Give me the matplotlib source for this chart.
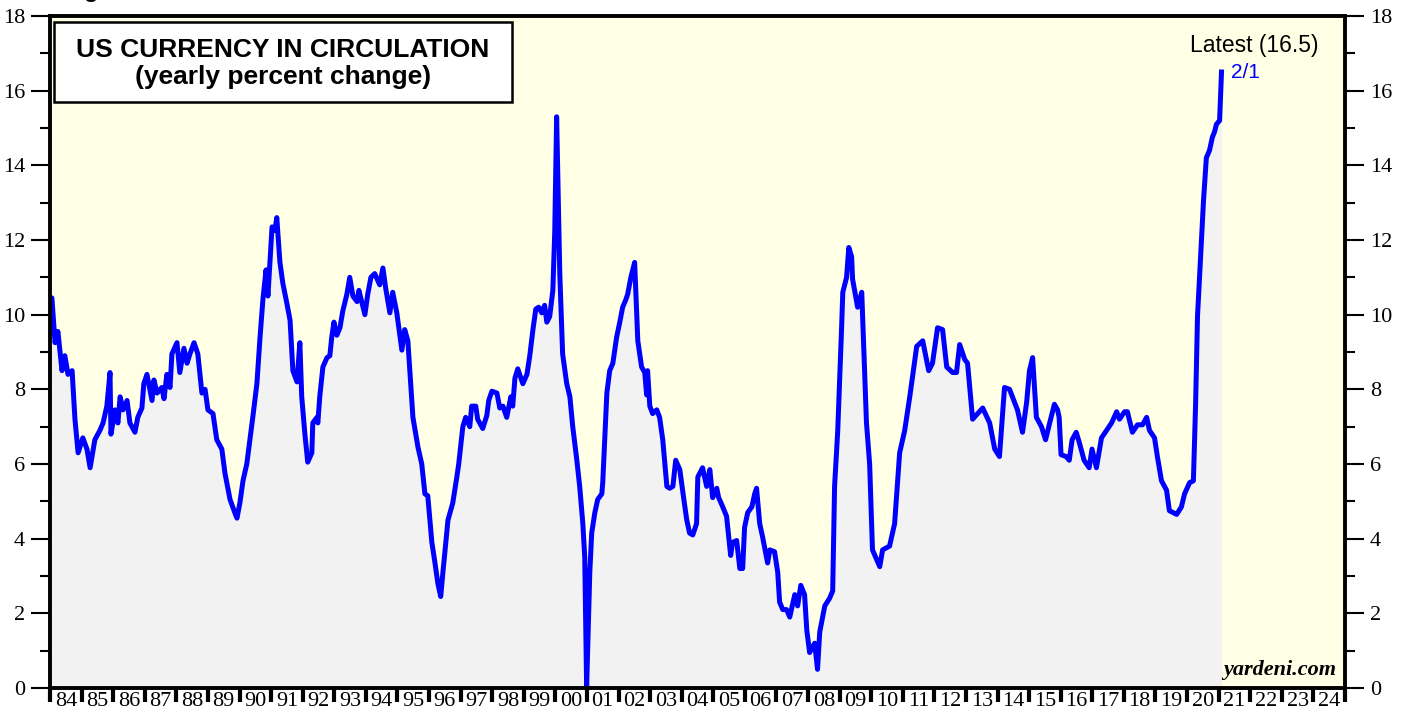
import matplotlib.pyplot as plt
from matplotlib.patches import Rectangle
from matplotlib.ticker import MultipleLocator, FixedLocator, NullFormatter

# yearly % change of US currency in circulation (decimal year, %)
years = [
    1984.00, 1984.06, 1984.16, 1984.25, 1984.38, 1984.47, 1984.57, 1984.70, 1984.79, 1984.89,
    1985.04, 1985.17, 1985.27, 1985.42, 1985.58, 1985.68, 1985.80, 1985.90, 1985.93,
    1986.06, 1986.15, 1986.22, 1986.31, 1986.44, 1986.53, 1986.69, 1986.78, 1986.91, 1986.97,
    1987.07, 1987.23, 1987.29, 1987.39, 1987.54, 1987.61, 1987.70, 1987.80, 1987.86,
    1988.02, 1988.11, 1988.24, 1988.34, 1988.43, 1988.56, 1988.68, 1988.81, 1988.91,
    1989.00, 1989.16, 1989.28, 1989.44, 1989.54, 1989.70, 1989.85, 1989.92,
    1990.01, 1990.11, 1990.23, 1990.33, 1990.42, 1990.55, 1990.65, 1990.74, 1990.84, 1990.90,
    1991.03, 1991.12, 1991.18, 1991.28, 1991.37, 1991.50, 1991.60, 1991.69, 1991.82, 1991.91, 1991.97,
    1992.07, 1992.16, 1992.29, 1992.32, 1992.45, 1992.48, 1992.54, 1992.64, 1992.77, 1992.86, 1992.92, 1992.99,
    1993.08, 1993.18, 1993.27, 1993.40, 1993.49, 1993.59, 1993.72, 1993.78, 1993.97,
    1994.06, 1994.16, 1994.28, 1994.44, 1994.54, 1994.63, 1994.76, 1994.85, 1994.98,
    1995.14, 1995.23, 1995.33, 1995.49, 1995.65, 1995.77, 1995.87, 1995.96,
    1996.09, 1996.18, 1996.28, 1996.37, 1996.44, 1996.53, 1996.60, 1996.75, 1996.88, 1996.94,
    1997.07, 1997.16, 1997.29, 1997.35, 1997.48, 1997.54, 1997.70, 1997.83, 1997.89, 1997.99,
    1998.15, 1998.24, 1998.34, 1998.46, 1998.59, 1998.65, 1998.72, 1998.81, 1998.97,
    1999.10, 1999.19, 1999.29, 1999.38, 1999.47, 1999.57, 1999.66, 1999.73, 1999.82, 1999.92, 1999.98,
    2000.04, 2000.14, 2000.23, 2000.36, 2000.46, 2000.55, 2000.68, 2000.77, 2000.87, 2000.93, 2000.99,
    2001.09, 2001.15, 2001.25, 2001.34, 2001.47, 2001.50, 2001.63, 2001.72, 2001.82, 2001.88, 2001.94,
    2002.04, 2002.13, 2002.23, 2002.29, 2002.39, 2002.51, 2002.61, 2002.73, 2002.83, 2002.89, 2002.92, 2002.99,
    2003.08, 2003.21, 2003.30, 2003.40, 2003.53, 2003.62, 2003.72, 2003.81, 2003.94,
    2004.06, 2004.16, 2004.25, 2004.35, 2004.47, 2004.51, 2004.57, 2004.66, 2004.79, 2004.89, 2004.98,
    2005.11, 2005.17, 2005.30, 2005.42, 2005.55, 2005.61, 2005.74, 2005.84, 2005.93, 2005.99,
    2006.09, 2006.22, 2006.31, 2006.37, 2006.47, 2006.56, 2006.72, 2006.79, 2006.94,
    2007.04, 2007.10, 2007.20, 2007.32, 2007.42, 2007.58, 2007.67, 2007.77, 2007.89, 2007.96,
    2008.05, 2008.21, 2008.30, 2008.37, 2008.53, 2008.68, 2008.78, 2008.84, 2008.94,
    2009.06, 2009.10, 2009.22, 2009.29, 2009.38, 2009.41, 2009.57, 2009.70, 2009.85, 2009.95,
    2010.04, 2010.27, 2010.36, 2010.58, 2010.74, 2010.90,
    2011.06, 2011.22, 2011.44, 2011.63, 2011.82, 2011.94,
    2012.10, 2012.26, 2012.39, 2012.58, 2012.70, 2012.80, 2012.96,
    2013.05, 2013.21, 2013.37, 2013.53, 2013.75, 2013.91,
    2014.06, 2014.22, 2014.38, 2014.47, 2014.63, 2014.79, 2014.92,
    2015.01, 2015.11, 2015.23, 2015.39, 2015.52, 2015.65, 2015.80, 2015.90, 2015.95,
    2016.01, 2016.17, 2016.27, 2016.36, 2016.49, 2016.58, 2016.74, 2016.90, 2016.99,
    2017.13, 2017.29, 2017.45, 2017.61, 2017.77, 2017.86,
    2018.02, 2018.11, 2018.27, 2018.43, 2018.59, 2018.72, 2018.81, 2018.97,
    2019.06, 2019.19, 2019.35, 2019.44, 2019.67, 2019.82, 2019.92,
    2020.08, 2020.20, 2020.27, 2020.33, 2020.46, 2020.52, 2020.61, 2020.71, 2020.80, 2020.87, 2020.93,
    2021.03, 2021.09,
]
pct_change = [
    10.4, 10.45, 9.25, 9.55, 8.5, 8.9, 8.4, 8.5, 7.2, 6.3,
    6.7, 6.4, 5.9, 6.65, 6.9, 7.1, 7.55, 8.45, 6.8,
    7.45, 7.1, 7.8, 7.45, 7.7, 7.1, 6.85, 7.25, 7.5, 8.15,
    8.4, 7.7, 8.25, 7.9, 8.05, 7.75, 8.4, 8.05, 8.95,
    9.25, 8.45, 9.1, 8.7, 8.95, 9.25, 8.95, 7.9, 8.0,
    7.45, 7.35, 6.65, 6.4, 5.75, 5.05, 4.7, 4.55,
    4.95, 5.55, 6.0, 6.65, 7.25, 8.15, 9.4, 10.4, 11.2, 10.5,
    12.35, 12.25, 12.6, 11.4, 10.85, 10.3, 9.85, 8.5, 8.2, 9.25, 7.8,
    6.8, 6.05, 6.3, 7.1, 7.25, 7.1, 7.8, 8.6, 8.85, 8.9, 9.4, 9.8,
    9.45, 9.65, 10.1, 10.55, 11.0, 10.5, 10.35, 10.65, 10.0,
    10.55, 11.0, 11.1, 10.8, 11.25, 10.7, 10.05, 10.6, 10.05,
    9.05, 9.6, 9.3, 7.25, 6.45, 6.0, 5.2, 5.15,
    3.9, 3.4, 2.8, 2.45, 3.1, 3.9, 4.5, 4.95, 5.65, 6.0,
    7.0, 7.25, 7.0, 7.55, 7.55, 7.2, 6.95, 7.3, 7.7, 7.95,
    7.9, 7.5, 7.55, 7.25, 7.8, 7.55, 8.3, 8.55, 8.15,
    8.4, 8.9, 9.6, 10.15, 10.2, 10.05, 10.25, 9.8, 9.95, 10.65, 12.2,
    15.3, 11.1, 8.95, 8.15, 7.8, 7.0, 6.1, 5.4, 4.4, 3.5, 0.03,
    3.1, 4.15, 4.7, 5.05, 5.2, 5.5, 7.9, 8.5, 8.7, 9.05, 9.4,
    9.8, 10.2, 10.4, 10.55, 11.0, 11.4, 9.3, 8.6, 8.45, 7.85, 8.5, 7.55,
    7.35, 7.45, 7.25, 6.65, 5.4, 5.35, 5.4, 6.1, 5.85,
    5.1, 4.5, 4.15, 4.1, 4.4, 5.65, 5.75, 5.9, 5.4, 5.85, 5.1,
    5.35, 5.1, 4.85, 4.6, 3.55, 3.9, 3.95, 3.2, 3.2, 4.3,
    4.7, 4.85, 5.2, 5.35, 4.4, 4.05, 3.35, 3.7, 3.65,
    3.1, 2.3, 2.1, 2.1, 1.9, 2.5, 2.2, 2.75, 2.5, 1.55,
    0.95, 1.2, 0.5, 1.5, 2.2, 2.4, 2.6, 5.4, 6.9,
    9.6, 10.6, 11.0, 11.8, 11.55, 10.95, 10.2, 10.6, 7.1, 6.0,
    3.7, 3.25, 3.7, 3.8, 4.4, 6.3,
    6.9, 7.8, 9.15, 9.3, 8.5, 8.7,
    9.65, 9.6, 8.6, 8.45, 8.45, 9.2, 8.8,
    8.7, 7.2, 7.35, 7.5, 7.1, 6.4,
    6.2, 8.05, 8.0, 7.8, 7.45, 6.85, 7.65,
    8.5, 8.85, 7.25, 7.0, 6.65, 7.1, 7.6, 7.45, 7.25,
    6.25, 6.2, 6.1, 6.65, 6.85, 6.6, 6.1, 5.9, 6.4,
    5.9, 6.7, 6.9, 7.1, 7.4, 7.2,
    7.4, 7.4, 6.85, 7.05, 7.05, 7.25, 6.9, 6.7,
    6.2, 5.55, 5.3, 4.75, 4.65, 4.85, 5.2,
    5.5, 5.55, 7.6, 9.95, 12.1, 13.05, 14.2, 14.4, 14.75, 14.9, 15.1,
    15.2, 16.5,
]

year_labels = [f"{y % 100:02d}" for y in range(1984, 2025)]

fig = plt.figure(figsize=(14.11, 7.19), dpi=100)
ax = fig.add_axes([50 / 1411, 31 / 719, 1295 / 1411, 672 / 719])

ax.set_facecolor('#ffffe5')
ax.fill_between(years, pct_change, 0, color='#f2f2f2', lw=0, zorder=1)
ax.plot(years, pct_change, color='#0000ff', lw=3.6, solid_joinstyle='round', zorder=3)

ax.set_xlim(1984, 2025)
ax.set_ylim(0, 18)

for s in ax.spines.values():
    s.set_linewidth(2.8)
    s.set_zorder(5)

# y axis on both sides, outward ticks
ax.yaxis.set_major_locator(MultipleLocator(2))
ax.yaxis.set_minor_locator(MultipleLocator(1))
ax.tick_params(axis='y', which='major', direction='out', length=14, width=1.5,
               left=True, right=True, labelleft=True, labelright=True,
               labelsize=16, pad=4)
ax.tick_params(axis='y', which='minor', direction='out', length=7, width=1.5,
               left=True, right=True)
for t in ax.yaxis.get_major_ticks():
    t.label1.set_family('Liberation Serif')
    t.label2.set_family('Liberation Serif')

# x axis: ticks at year boundaries, labels centred inside each year
ax.xaxis.set_major_locator(MultipleLocator(1))
ax.xaxis.set_major_formatter(NullFormatter())
ax.xaxis.set_minor_locator(FixedLocator([y + 0.5 for y in range(1984, 2025)]))
ax.set_xticklabels(year_labels, minor=True)
ax.tick_params(axis='x', which='major', direction='out', length=10, width=3)
ax.tick_params(axis='x', which='minor', length=0, labelsize=16, pad=3)
for lab in ax.get_xticklabels(minor=True):
    lab.set_family('Liberation Serif')

# title box
ax.add_patch(Rectangle((0.003, 0.872), 0.354, 0.119, transform=ax.transAxes,
                       facecolor='white', edgecolor='black', lw=1.8, zorder=6))
ax.text(0.18, 0.929, 'US CURRENCY IN CIRCULATION\n(yearly percent change)',
        transform=ax.transAxes, ha='center', va='center', fontsize=19,
        fontweight='bold', family='Liberation Sans', linespacing=1.15, zorder=7)

ax.text(2022.13, 17.2, 'Latest (16.5)', fontsize=16.5, family='Liberation Sans',
        ha='center', va='center', zorder=6)
ax.text(2021.4, 16.5, '2/1', fontsize=15, family='Liberation Sans', color='#0000ff',
        ha='left', va='center', zorder=6)

ax.text(0.993, 0.012, 'yardeni.com', transform=ax.transAxes, ha='right', va='bottom',
        fontsize=16, fontweight='bold', style='italic', family='Liberation Serif', zorder=6)

fig.text(0.045, 1.0 + 3 / 719, 'Figure 3.', fontsize=17, fontweight='bold',
         family='Liberation Sans', va='baseline')

fig.savefig('out.png', dpi=100)
